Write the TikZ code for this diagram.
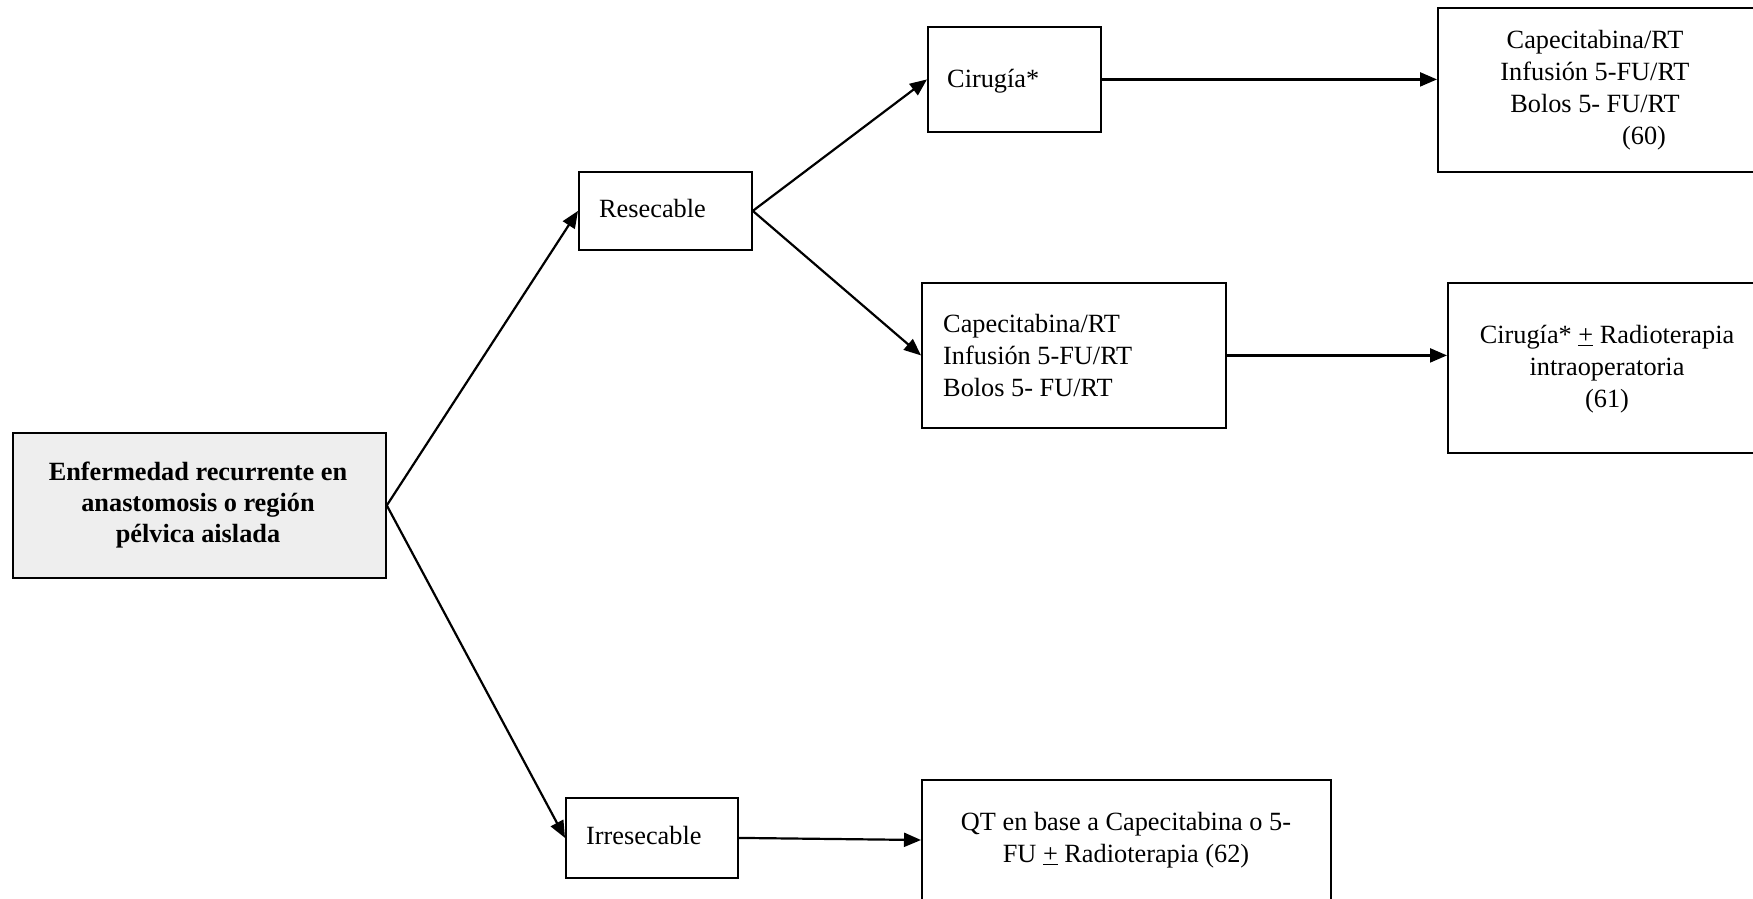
\documentclass[tikz,border=0pt]{standalone}
\usepackage{fontspec}
\setmainfont{Liberation Serif}
\usetikzlibrary{arrows.meta}
\begin{document}
\begin{tikzpicture}[x=1pt,y=-1pt,
  box/.style={draw, line width=1.8pt, inner sep=0pt, anchor=north west},
  txt/.style={font=\fontsize{26.3}{32}\selectfont, inner sep=0pt, align=center},
  ltxt/.style={font=\fontsize{26.3}{32}\selectfont, inner sep=0pt, align=left, anchor=west},
  arr/.style={-{Triangle[length=17pt,width=14pt]}, line width=2.2pt}]
\useasboundingbox (0,0) rectangle (1753,898);
% boxes
\node[box, fill=gray!13, minimum width=373pt, minimum height=145pt] (main) at (12,432) {};
\node[box, minimum width=173pt, minimum height=78pt] (res) at (578,171) {};
\node[box, minimum width=173pt, minimum height=105pt] (cir) at (927,26) {};
\node[box, minimum width=330pt, minimum height=164pt] (tr) at (1437,7) {};
\node[box, minimum width=304pt, minimum height=145pt] (mid) at (921,282) {};
\node[box, minimum width=320pt, minimum height=170pt] (rr) at (1447,282) {};
\node[box, minimum width=172pt, minimum height=80pt] (irr) at (565,797) {};
\node[box, minimum width=409pt, minimum height=140pt] (qt) at (921,779) {};
% texts
\node[txt, font=\bfseries\fontsize{26.3}{31}\selectfont] (maint) at (198,505) {Enfermedad recurrente en\\anastomosis o región\\pélvica aislada};
\node[ltxt] (rest) at (599,208) {Resecable};
\node[ltxt] (cirt) at (947,81) {Cirugía*};
\node[txt] (trt) at (1595,90) {Capecitabina/RT\\Infusión 5-FU/RT\\Bolos 5- FU/RT\\\hspace*{98pt}(60)};
\node[ltxt] (midt) at (943,355) {Capecitabina/RT\\Infusión 5-FU/RT\\Bolos 5- FU/RT};
\node[txt] (rrt) at (1607,369) {Cirugía* \underline{+} Radioterapia\\intraoperatoria\\(61)};
\node[ltxt] (irrt) at (586,835) {Irresecable};
\node[txt] (qtt) at (1126,840) {QT en base a Capecitabina o 5-\\FU \underline{+} Radioterapia (62)};
% connectors
\coordinate (qtin) at (921,840);
\draw[arr] (main.east) -- (res.west);
\draw[arr] (main.east) -- (irr.west);
\draw[arr] (res.east) -- (cir.west);
\draw[arr] (res.east) -- (mid.west);
\draw[arr] (cir.east) -- (cir.east -| tr.west);
\draw[arr] (mid.east) -- (mid.east -| rr.west);
\draw[arr] (irr.east) -- (qtin);
\end{tikzpicture}
\end{document}
